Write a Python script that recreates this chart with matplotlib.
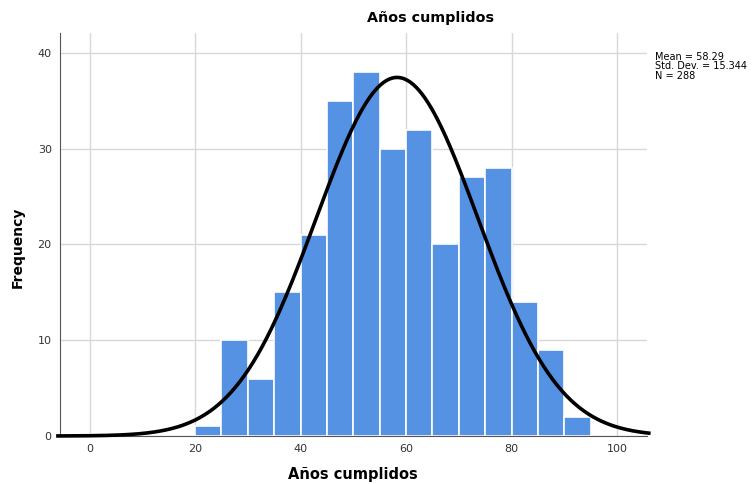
import numpy as np
import matplotlib.pyplot as plt

# Datos del histograma (bins de 5 años)
bin_edges = [20, 25, 30, 35, 40, 45, 50, 55, 60, 65, 70, 75, 80, 85, 90, 95]
counts = [1, 10, 6, 15, 21, 35, 38, 30, 32, 20, 27, 28, 14, 9, 2]
mean = 58.29
std = 15.344
n = 288

xticks = [0, 20, 40, 60, 80, 100]
yticks = [0, 10, 20, 30, 40]

fig = plt.figure(figsize=(7.56, 4.84), dpi=100)
ax = fig.add_axes([0.0794, 0.0992, 0.776, 0.833])

lefts = bin_edges[:-1]
widths = np.diff(bin_edges)
ax.bar(lefts, counts, width=widths, align='edge', color='#5592e4',
       edgecolor='white', linewidth=1.2, zorder=2)

# Curva normal
xs = np.linspace(-6, 106, 400)
binw = bin_edges[1] - bin_edges[0]
ys = n * binw / (std * np.sqrt(2 * np.pi)) * np.exp(-0.5 * ((xs - mean) / std) ** 2)
ax.plot(xs, ys, color='black', linewidth=2.6, zorder=3, clip_on=False)

ax.set_xlim(-5.6, 105.6)
ax.set_ylim(0, 42.1)
ax.set_xticks(xticks)
ax.set_yticks(yticks)
ax.grid(True, color='#d8d8d8', linewidth=1, zorder=0)
ax.set_axisbelow(True)
ax.tick_params(length=0, labelsize=8, colors='#333333', pad=6)

for s in ['top', 'right']:
    ax.spines[s].set_visible(False)
ax.spines['left'].set_color('#555555')
ax.spines['bottom'].set_color('#555555')

# etiquetas de ejes
fig.text(0.467, 0.004, 'Años cumplidos', ha='center', va='bottom',
         fontsize=10.5, fontweight='bold')
fig.text(0.024, 0.488, 'Frequency', ha='center', va='center', rotation=90,
         fontsize=10, fontweight='bold')
fig.text(0.569, 0.962, 'Años cumplidos', ha='center', va='center',
         fontsize=10.3, fontweight='bold')

fig.text(0.866, 0.893, 'Mean = %.2f\nStd. Dev. = %.3f\nN = %d' % (mean, std, n),
         ha='left', va='top', fontsize=7, linespacing=0.95)

plt.savefig('out.png', dpi=100)
